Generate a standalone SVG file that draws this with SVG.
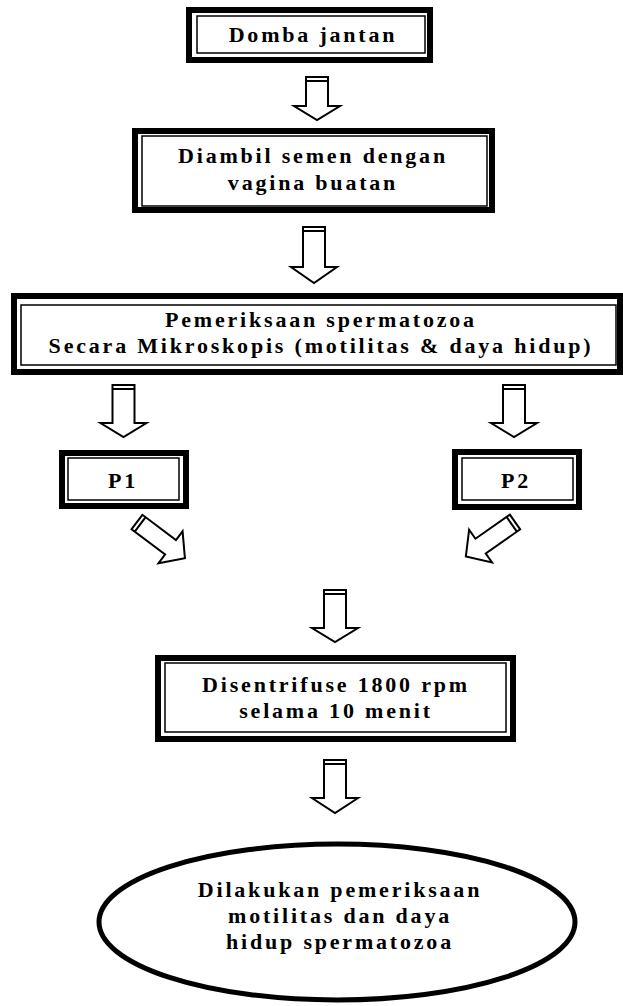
<svg xmlns="http://www.w3.org/2000/svg" width="623" height="1006" viewBox="0 0 623 1006">
<style>
.outer{fill:#fff;stroke:#000;stroke-width:6}
.inner{fill:none;stroke:#000;stroke-width:1.5}
.arr{fill:#fff;stroke:#000;stroke-width:2;stroke-linejoin:miter}
.cap{fill:none;stroke:#000;stroke-width:2}
text{font-family:"Liberation Serif","Times New Roman",serif;font-weight:bold;font-size:22px;letter-spacing:2.8px;text-anchor:middle;fill:#000}
</style>
<rect width="623" height="1006" fill="#fff"/>
<g id="n1">
<rect class="outer" x="189" y="10" width="241" height="50"/>
<rect class="inner" x="197" y="16" width="228" height="37"/>
<text x="313" y="42">Domba jantan</text>
</g>
<g id="n2">
<rect class="outer" x="135" y="131" width="357" height="79"/>
<rect class="inner" x="142" y="136" width="345" height="70"/>
<text x="313" y="163">Diambil semen dengan</text>
<text x="313" y="190">vagina buatan</text>
</g>
<g id="n3">
<rect class="outer" x="14" y="296" width="606" height="76"/>
<rect class="inner" x="21" y="305" width="595" height="60"/>
<text x="321" y="327">Pemeriksaan spermatozoa</text>
<text x="321" y="353">Secara Mikroskopis (motilitas &amp; daya hidup)</text>
</g>
<g id="p1">
<rect class="outer" x="62" y="453" width="124" height="53"/>
<rect class="inner" x="68" y="458" width="111" height="42"/>
<text x="123" y="488">P1</text>
</g>
<g id="p2">
<rect class="outer" x="455" y="452" width="124" height="55"/>
<rect class="inner" x="462" y="458" width="111" height="42"/>
<text x="516" y="488">P2</text>
</g>
<g id="n4">
<rect class="outer" x="158" y="658" width="355" height="81"/>
<rect class="inner" x="165" y="663" width="341" height="69"/>
<text x="336" y="692">Disentrifuse 1800 rpm</text>
<text x="336" y="718">selama 10 menit</text>
</g>
<g id="n5">
<ellipse cx="337" cy="922" rx="238" ry="78" fill="#fff" stroke="#000" stroke-width="5"/>
<text x="340" y="897">Dilakukan pemeriksaan</text>
<text x="340" y="923">motilitas dan daya</text>
<text x="340" y="949">hidup spermatozoa</text>
</g>
<g id="connectors">
<path class="arr" d="M306,77 H328 V106 H340 L317,120 L294,106 H306 Z"/>
<path class="cap" d="M306,81 H328"/>
<path class="arr" d="M303,227 H325 V267 H337 L314,283 L291,267 H303 Z"/>
<path class="cap" d="M303,231 H325"/>
<path class="arr" d="M112.5,385 H134.5 V423 H146.5 L123.5,437 L100.5,423 H112.5 Z"/>
<path class="cap" d="M112.5,389 H134.5"/>
<path class="arr" d="M503,385 H525 V423 H537 L514,437 L491,423 H503 Z"/>
<path class="cap" d="M503,389 H525"/>
<path class="arr" d="M324,590 H346 V628 H358 L335,642 L312,628 H324 Z"/>
<path class="cap" d="M324,594 H346"/>
<path class="arr" d="M324,760 H346 V798 H358 L335,813 L312,798 H324 Z"/>
<path class="cap" d="M324,764 H346"/>
<g transform="translate(137,522) rotate(-53)">
<path class="arr" d="M-9,0 H9 V42 H20 L0,60 L-20,42 H-9 Z"/>
<path class="cap" d="M-9,4 H9"/>
</g>
<g transform="translate(515,522) rotate(55)">
<path class="arr" d="M-9,0 H9 V42 H20 L0,60 L-20,42 H-9 Z"/>
<path class="cap" d="M-9,4 H9"/>
</g>
</g>
</svg>
